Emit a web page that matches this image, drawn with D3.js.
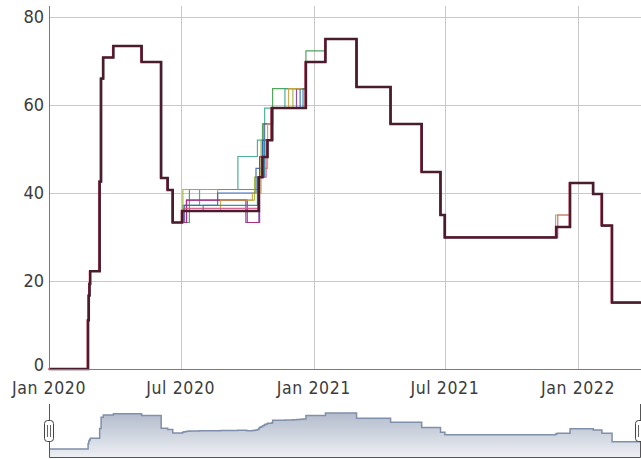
<!DOCTYPE html>
<html>
<head>
<meta charset="utf-8">
<script src="https://cdn.jsdelivr.net/npm/d3@7"></script>
<style>
  html, body { margin: 0; padding: 0; background: #fff; }
  svg { display: block; }
  text { font-family: "DejaVu Sans Condensed", "DejaVu Sans", sans-serif; }
</style>
</head>
<body>
<svg id="chart" width="641" height="459"></svg>
<script>
// --- data ---
const startDate = "2020-01-01";
const endDate = "2022-03-29";

const yTicks = [0, 20, 40, 60, 80];
const xTicks = ["2020-01-01", "2020-07-01", "2021-01-01", "2021-07-01", "2022-01-01"];

// national series, as step changes [date, value]
const mainSteps = [
  ["2020-01-01", 0], ["2020-02-24", 11.1], ["2020-02-25", 16.7], ["2020-02-26", 19.4],
  ["2020-02-27", 22.2], ["2020-03-11", 42.6], ["2020-03-13", 66], ["2020-03-16", 70.8],
  ["2020-03-30", 73.4], ["2020-05-08", 69.8], ["2020-06-04", 43.4], ["2020-06-13", 40.7],
  ["2020-06-20", 33.3], ["2020-07-03", 35.9], ["2020-10-17", 43.6], ["2020-10-22", 48.2],
  ["2020-10-29", 52], ["2020-11-04", 59.3], ["2020-12-21", 69.8], ["2021-01-17", 75],
  ["2021-03-01", 64.1], ["2021-04-17", 55.7], ["2021-05-30", 44.8], ["2021-06-25", 35],
  ["2021-07-01", 29.9], ["2021-12-02", 32.3], ["2021-12-21", 42.3], ["2022-01-22", 39.8],
  ["2022-02-03", 32.6], ["2022-02-17", 15.1]
];

// regional series only differ from the national one inside these windows
const windowA = ["2020-06-20", "2021-01-17"];
const windowB = ["2021-11-30", "2021-12-21"];

const greenSteps = [["2020-06-20", 33.3], ["2020-07-13", 40.8], ["2020-10-18", 48.2], ["2020-10-22", 55.7], ["2020-11-05", 63.7], ["2020-12-21", 72.3]];
const tealSteps = [["2020-06-20", 33.3], ["2020-07-04", 37.2], ["2020-07-27", 40.8], ["2020-09-18", 48.3], ["2020-10-15", 52], ["2020-10-25", 59.3], ["2020-11-22", 63.7], ["2020-12-21", 69.8]];
const limeSteps = [["2020-06-20", 33.3], ["2020-07-04", 40.8], ["2020-08-21", 38.4], ["2020-10-11", 43.6], ["2020-10-20", 52], ["2020-11-05", 59.3], ["2020-12-03", 63.7], ["2020-12-21", 69.8]];
const limeStepsB = [["2021-11-30", 29.9], ["2021-12-01", 35]];
const blueSteps = [["2020-06-20", 33.3], ["2020-07-06", 37.2], ["2020-08-21", 40], ["2020-10-13", 45.6], ["2020-10-22", 52], ["2020-11-05", 59.3], ["2020-12-13", 63.7], ["2020-12-21", 69.8]];
const purpleSteps = [["2020-06-20", 33.3], ["2020-07-09", 38.4], ["2020-09-29", 33.3], ["2020-10-17", 43.6], ["2020-10-24", 55.7], ["2020-11-05", 59.3], ["2020-12-08", 63.7], ["2020-12-21", 69.8]];
const magentaSteps = [["2020-06-20", 33.3], ["2020-07-09", 38.4], ["2020-10-01", 33.3], ["2020-10-18", 48.2], ["2020-10-29", 52], ["2020-11-05", 59.3], ["2020-12-21", 69.8]];
const goldSteps = [["2020-06-20", 33.3], ["2020-07-04", 35.9], ["2020-08-25", 38.4], ["2020-10-08", 40], ["2020-10-20", 45.6], ["2020-10-29", 55.7], ["2020-11-05", 59.3], ["2020-11-27", 63.7], ["2020-12-21", 69.8]];
const cyanSteps = [["2020-06-20", 33.3], ["2020-07-03", 35.9], ["2020-08-01", 37.2], ["2020-10-15", 43.6], ["2020-10-25", 52], ["2020-11-05", 59.3], ["2020-12-17", 63.7], ["2020-12-21", 69.8]];
const cyanStepsB = [["2021-11-30", 29.9], ["2021-12-01", 32.3]];
const pinkSteps = [["2020-06-20", 33.3], ["2020-07-05", 36.5], ["2020-10-17", 43.6], ["2020-10-27", 52], ["2020-11-05", 59.3], ["2020-12-21", 69.8]];
const pinkStepsB = [["2021-11-30", 29.9], ["2021-12-04", 35]];

const regions = [
  { color: "#3f9a4e", a: greenSteps },
  { color: "#3aa98c", a: tealSteps },
  { color: "#9cb52c", a: limeSteps, b: limeStepsB },
  { color: "#3564b8", a: blueSteps },
  { color: "#7b3da2", a: purpleSteps },
  { color: "#b0287c", a: magentaSteps },
  { color: "#c9a23e", a: goldSteps },
  { color: "#1b8c9c", a: cyanSteps, b: cyanStepsB },
  { color: "#d2588a", a: pinkSteps, b: pinkStepsB }
];

// --- helpers ---
const parse = d3.utcParse("%Y-%m-%d");
const inWin = (d, w) => d >= w[0] && d < w[1];

function merge(a, b) {
  let s = mainSteps.filter(p => !inWin(p[0], windowA) && !(b && inWin(p[0], windowB)));
  s = s.concat(a || []).concat(b || []);
  s.sort((p, q) => d3.ascending(p[0], q[0]));
  return s;
}

function toPoints(steps) {
  const pts = steps.map(([d, v]) => ({ date: parse(d), value: v }));
  pts.push({ date: parse(endDate), value: steps[steps.length - 1][1] });
  return pts;
}

// --- layout ---
const W = 641, H = 459;
const plot = { left: 49, right: 641, top: 6, bottom: 369 };
const mini = { top: 404, bottom: 458 };

const svg = d3.select("#chart");
svg.append("rect").attr("width", W).attr("height", H).attr("fill", "#fff");

const x = d3.scaleUtc()
  .domain([parse(startDate), parse(endDate)])
  .range([plot.left, plot.right]);

const y = d3.scaleLinear()
  .domain([0, 82.5])
  .range([plot.bottom, plot.top]);

// --- grid ---
const grid = svg.append("g").attr("shape-rendering", "crispEdges");
grid.selectAll(".hgrid")
  .data(yTicks.filter(t => t > 0))
  .enter().append("line")
  .attr("x1", plot.left).attr("x2", plot.right)
  .attr("y1", d => Math.round(y(d)) + 0.5).attr("y2", d => Math.round(y(d)) + 0.5)
  .attr("stroke", "#c8c8c8");
grid.selectAll(".vgrid")
  .data(xTicks.slice(1))
  .enter().append("line")
  .attr("x1", d => Math.round(x(parse(d))) + 0.5).attr("x2", d => Math.round(x(parse(d))) + 0.5)
  .attr("y1", plot.top).attr("y2", plot.bottom)
  .attr("stroke", "#c8c8c8");

// --- lines ---
const line = d3.line()
  .x(d => x(d.date))
  .y(d => y(d.value))
  .curve(d3.curveStepAfter);

const lines = svg.append("g");
regions.forEach(r => {
  lines.append("path")
    .datum(toPoints(merge(r.a, r.b)))
    .attr("d", line)
    .attr("fill", "none")
    .attr("stroke", r.color)
    .attr("stroke-width", 1.2)
    .attr("stroke-opacity", 0.9);
});

const mainPts = toPoints(mainSteps);
lines.append("path")
  .datum(mainPts)
  .attr("d", line)
  .attr("transform", "translate(-0.8,0)")
  .attr("fill", "none")
  .attr("stroke", "#d0304f")
  .attr("stroke-width", 1.4);
lines.append("path")
  .datum(mainPts)
  .attr("d", line)
  .attr("fill", "none")
  .attr("stroke", "#4a1d2e")
  .attr("stroke-width", 2.5);

// --- axes ---
svg.append("line")
  .attr("x1", plot.left + 0.5).attr("x2", plot.left + 0.5)
  .attr("y1", plot.top).attr("y2", plot.bottom + 0.5)
  .attr("stroke", "#7a7a7a");
svg.append("line")
  .attr("x1", plot.left).attr("x2", plot.right)
  .attr("y1", plot.bottom + 0.5).attr("y2", plot.bottom + 0.5)
  .attr("stroke", "#7a7a7a");

svg.append("g").selectAll("text")
  .data(yTicks)
  .enter().append("text")
  .attr("x", plot.left - 5)
  .attr("y", d => d === 0 ? y(d) - 4 : y(d))
  .attr("dy", "0.36em")
  .attr("text-anchor", "end")
  .attr("font-size", 18)
  .attr("fill", "#3c3c3c")
  .text(d => d);

const fmt = d3.utcFormat("%b %Y");
svg.append("g").selectAll("text")
  .data(xTicks)
  .enter().append("text")
  .attr("x", d => x(parse(d)))
  .attr("y", 393.5)
  .attr("text-anchor", "middle")
  .attr("font-size", 17.5)
  .attr("letter-spacing", 0.6)
  .attr("fill", "#3c3c3c")
  .text(d => fmt(parse(d)));

// --- range selector ---
const allSeries = [mainSteps].concat(regions.map(r => merge(r.a, r.b)));
const allPts = allSeries.map(toPoints);
// combined series: mean of every series on each day a value changes
const dates = Array.from(new Set(allPts.flatMap(p => p.map(d => +d.date)))).sort(d3.ascending);
function valueAt(pts, t) {
  let v = pts[0].value;
  for (const p of pts) { if (+p.date <= t) v = p.value; else break; }
  return v;
}
const combined = dates.map(t => ({ date: new Date(t), value: d3.mean(allPts, p => valueAt(p, t)) }));

const cMax = d3.max(combined, d => d.value), cMin = d3.min(combined, d => d.value);
const extra = (cMax - cMin) * 0.25;
const ym = d3.scaleLinear()
  .domain([cMin - extra, cMax + extra])
  .range([mini.bottom, mini.top]);

const defs = svg.append("defs");
const grad = defs.append("linearGradient")
  .attr("id", "miniFill")
  .attr("gradientUnits", "userSpaceOnUse")
  .attr("x1", 0).attr("x2", 0).attr("y1", mini.top).attr("y2", mini.bottom);
grad.append("stop").attr("offset", 0).attr("stop-color", "#a7b1c4");
grad.append("stop").attr("offset", 1).attr("stop-color", "#eef0f4");

svg.append("path")
  .datum(combined)
  .attr("d", d3.area().x(d => x(d.date)).y0(mini.bottom).y1(d => ym(d.value)).curve(d3.curveStepAfter))
  .attr("fill", "url(#miniFill)");
svg.append("path")
  .datum(combined)
  .attr("d", line.y(d => ym(d.value)))
  .attr("fill", "none")
  .attr("stroke", "#808fab")
  .attr("stroke-width", 1.5);

svg.append("path")
  .attr("d", `M${plot.left + 0.5},${mini.top}V${mini.bottom - 0.5}H${plot.right - 0.5}V${mini.top}`)
  .attr("fill", "none")
  .attr("stroke", "#555")
  .attr("stroke-width", 1);

[plot.left, plot.right - 1].forEach(hx => {
  const g = svg.append("g").attr("transform", `translate(${hx},${(mini.top + mini.bottom) / 2})`);
  g.append("rect")
    .attr("x", -4.5).attr("y", -10.5).attr("width", 9).attr("height", 21)
    .attr("rx", 3).attr("fill", "#fff").attr("stroke", "#444").attr("stroke-width", 1);
  g.append("line").attr("x1", -1.5).attr("x2", -1.5).attr("y1", -6).attr("y2", 6).attr("stroke", "#666");
  g.append("line").attr("x1", 1.5).attr("x2", 1.5).attr("y1", -6).attr("y2", 6).attr("stroke", "#666");
});
</script>
</body>
</html>
